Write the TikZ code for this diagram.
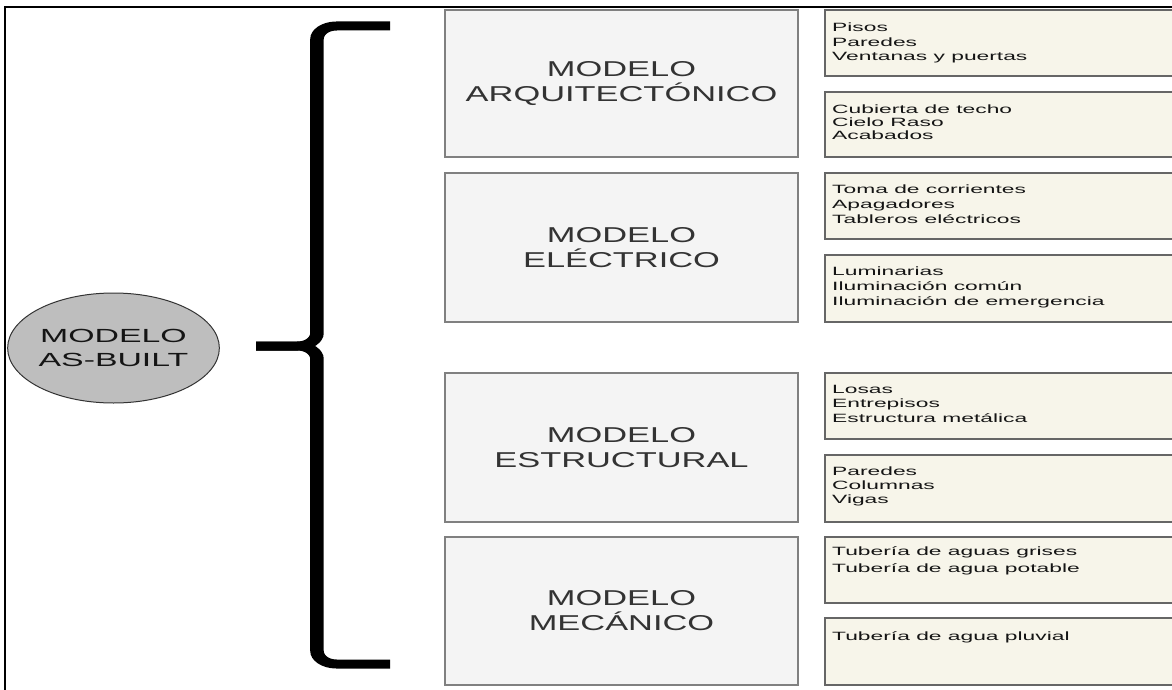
\documentclass[tikz,border=0pt]{standalone}
\usepackage{fontspec}
\setmainfont{Liberation Sans}
\newfontfamily\bigf[FakeStretch=1.6]{Liberation Sans}
\newfontfamily\elf[FakeStretch=1.78]{Liberation Sans}
\newfontfamily\smf[FakeStretch=1.9]{Liberation Sans}
\usetikzlibrary{shapes.geometric}
\definecolor{cream}{HTML}{F7F5EA}
\definecolor{lgray}{HTML}{F4F4F4}
\definecolor{ellfill}{HTML}{BEBEBE}
\definecolor{ellline}{HTML}{333333}
\definecolor{boxline}{HTML}{666666}
\definecolor{lboxline}{HTML}{808080}
\definecolor{bigtxt}{HTML}{333333}
\definecolor{itemtxt}{HTML}{151515}
\begin{document}
\begin{tikzpicture}[x=1pt,y=-1pt,
  modbox/.style={draw=lboxline, line width=1.3pt, fill=lgray, minimum width=353pt,
    inner sep=0pt, align=center, text=bigtxt, font=\bigf\fontsize{21.5}{25}\selectfont},
  itembox/.style={draw=boxline, line width=1.7pt, fill=cream, minimum width=360pt, inner sep=0pt},
  itemtext/.style={anchor=north west, inner sep=0pt, align=left, text=itemtxt,
    font=\smf\fontsize{12}{14.5}\selectfont},
  bracepart/.style={line width=9pt, rounded corners=13pt}]
\useasboundingbox (0,0) rectangle (1172,690);
\clip (0,0) rectangle (1172,690);
\fill[white] (0,0) rectangle (1172,690);
% frame
\draw[line width=2pt] (5,692) -- (5,7) -- (1180,7);
% central node
\node[ellipse, draw=ellline, line width=1pt, fill=ellfill, minimum width=207pt, minimum height=110pt,
  inner sep=0pt, align=center, text=itemtxt, font=\elf\fontsize{19}{24}\selectfont]
  (asb) at (113.5,348) {MODELO\\AS-BUILT};
% brace
\begin{scope}[transform canvas={xscale=1.5}]
\draw[bracepart] (260,26) -- (211.33,26) -- (211.33,346) -- (170.67,346);
\draw[bracepart] (170.67,346) -- (211.33,346) -- (211.33,664) -- (260,664);
\end{scope}
% model boxes
\node[modbox, minimum height=147pt] (arq) at (621.5,83.5) {MODELO\\ARQUITECTÓNICO};
\node[modbox, minimum height=149pt] (ele) at (621.5,247.5) {MODELO\\ELÉCTRICO};
\node[modbox, minimum height=149pt] (est) at (621.5,447.5) {MODELO\\ESTRUCTURAL};
\node[modbox, minimum height=148pt] (mec) at (621.5,611) {MODELO\\MECÁNICO};
% item boxes
\node[itembox, minimum height=66pt] (r1) at (1005,43) {};
\node[itembox, minimum height=65pt] (r2) at (1005,124.5) {};
\node[itembox, minimum height=66pt] (r3) at (1005,206) {};
\node[itembox, minimum height=67pt] (r4) at (1005,288.5) {};
\node[itembox, minimum height=66pt] (r5) at (1005,406) {};
\node[itembox, minimum height=67pt] (r6) at (1005,488.5) {};
\node[itembox, minimum height=66pt] (r7) at (1005,570) {};
\node[itembox, minimum height=67pt] (r8) at (1005,651.5) {};
% item texts
\node[itemtext] (t1) at (832,22.7) {Pisos\\Paredes\\Ventanas y puertas};
\node[itemtext, font=\smf\fontsize{12}{13}\selectfont] (t2) at (832,105) {Cubierta de techo\\Cielo Raso\\Acabados};
\node[itemtext, font=\smf\fontsize{12}{15}\selectfont] (t3) at (832,185) {Toma de corrientes\\Apagadores\\Tableros eléctricos};
\node[itemtext, font=\smf\fontsize{12}{15}\selectfont] (t4) at (832,266.7) {Luminarias\\Iluminación común\\Iluminación de emergencia};
\node[itemtext] (t5) at (832,385) {Losas\\Entrepisos\\Estructura metálica};
\node[itemtext, font=\smf\fontsize{12}{14}\selectfont] (t6) at (832,466.7) {Paredes\\Columnas\\Vigas};
\node[itemtext, font=\smf\fontsize{12}{17}\selectfont] (t7) at (832,546.7) {Tubería de aguas grises\\Tubería de agua potable};
\node[itemtext] (t8) at (832,631.7) {Tubería de agua pluvial};
\end{tikzpicture}
\end{document}
